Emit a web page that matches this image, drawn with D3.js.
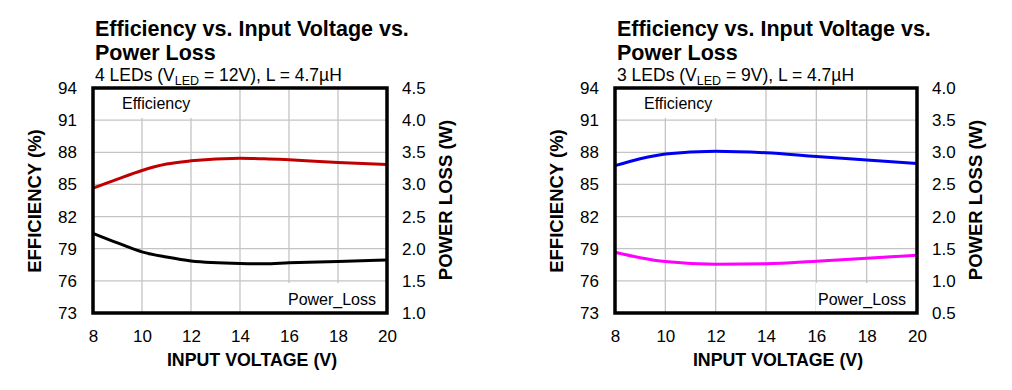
<!DOCTYPE html>
<html>
<head>
<meta charset="utf-8">
<script src="https://cdn.jsdelivr.net/npm/d3@7"></script>
<style>
  html, body { margin: 0; padding: 0; background: #fff; }
  svg { display: block; font-family: "Liberation Sans", Arial, Helvetica, sans-serif; }
</style>
</head>
<body>
<svg id="chart" width="1012" height="390"></svg>
<script>
// ---- Data ----
const voltage = [8, 9, 10, 11, 12, 14, 15, 16, 18, 20];
const eff4Led = [84.65, 85.5, 86.3, 86.9, 87.2, 87.45, 87.4, 87.3, 87.05, 86.85];
const loss4Led = [2.24, 2.09, 1.95, 1.87, 1.81, 1.77, 1.765, 1.78, 1.80, 1.825];
const voltage3 = [8, 9, 10, 12, 14, 16, 18, 20];
const eff3Led = [86.75, 87.4, 87.85, 88.1, 87.95, 87.6, 87.28, 86.95];
const loss3Led = [1.445, 1.36, 1.30, 1.26, 1.267, 1.305, 1.35, 1.40];
const xTicks = [8, 10, 12, 14, 16, 18, 20];
const effTicks = [73, 76, 79, 82, 85, 88, 91, 94];
const lossTicks4 = [1.0, 1.5, 2.0, 2.5, 3.0, 3.5, 4.0, 4.5];
const lossTicks3 = [0.5, 1.0, 1.5, 2.0, 2.5, 3.0, 3.5, 4.0];
const titleLines = ["Efficiency vs. Input Voltage vs.", "Power Loss"];
const subtitles = [
  {pre: "4 LEDs (V", sub: "LED", post: " = 12V), L = 4.7µH"},
  {pre: "3 LEDs (V", sub: "LED", post: " = 9V), L = 4.7µH"}
];

const svg = d3.select("#chart");

function panel(opt) {
  const g = svg.append("g");
  const x = d3.scaleLinear().domain([8, 20]).range([opt.left, opt.right]);
  const yE = d3.scaleLinear().domain([73, 94]).range([313, 88]);
  const yL = d3.scaleLinear().domain(opt.lossDomain).range([313, 88]);

  // grid
  const grid = g.append("g").attr("stroke", "#c4c4c4").attr("stroke-width", 1.3);
  xTicks.slice(1, -1).forEach(v => grid.append("line")
    .attr("x1", x(v)).attr("x2", x(v)).attr("y1", 88).attr("y2", 313));
  effTicks.slice(1, -1).forEach(v => grid.append("line")
    .attr("x1", opt.left).attr("x2", opt.right).attr("y1", yE(v)).attr("y2", yE(v)));

  // label boxes (white) covering grid
  g.append("rect").attr("x", opt.left).attr("y", 88)
    .attr("width", opt.effBoxW).attr("height", 30).attr("fill", "#fff");
  g.append("rect").attr("x", opt.right - opt.lossBoxW).attr("y", 283)
    .attr("width", opt.lossBoxW).attr("height", 30).attr("fill", "#fff");

  // lines
  const lineE = d3.line().x((d, i) => x(opt.xs[i])).y(d => yE(d)).curve(d3.curveMonotoneX);
  const lineL = d3.line().x((d, i) => x(opt.xs[i])).y(d => yL(d)).curve(d3.curveMonotoneX);
  g.append("path").attr("d", lineE(opt.eff)).attr("fill", "none")
    .attr("stroke", opt.effColor).attr("stroke-width", 3);
  g.append("path").attr("d", lineL(opt.loss)).attr("fill", "none")
    .attr("stroke", opt.lossColor).attr("stroke-width", 3);

  // inside labels
  g.append("text").attr("x", opt.left + 29).attr("y", 109)
    .attr("font-size", 16).text("Efficiency");
  g.append("text").attr("x", opt.right - 11).attr("y", 305)
    .attr("text-anchor", "end").attr("font-size", 16).text("Power_Loss");

  // frame
  g.append("rect").attr("x", opt.left).attr("y", 88)
    .attr("width", opt.right - opt.left).attr("height", 225)
    .attr("fill", "none").attr("stroke", "#000").attr("stroke-width", 3.5);

  // axes
  const axB = g.append("g").attr("transform", "translate(0,313)")
    .call(d3.axisBottom(x).tickValues(xTicks).tickSize(0).tickPadding(17).tickFormat(d3.format("d")));
  const axLft = g.append("g").attr("transform", `translate(${opt.left},0)`)
    .call(d3.axisLeft(yE).tickValues(effTicks).tickSize(0).tickPadding(16).tickFormat(d3.format("d")));
  const axR = g.append("g").attr("transform", `translate(${opt.right},0)`)
    .call(d3.axisRight(yL).tickValues(opt.lossTicks).tickSize(0).tickPadding(15).tickFormat(d3.format(".1f")));
  [axB, axLft, axR].forEach(a => {
    a.select(".domain").remove();
    a.selectAll("text").attr("font-size", 17).attr("fill", "#000")
      .attr("font-family", "'Liberation Sans', Arial, sans-serif");
  });

  // axis titles
  g.append("text").attr("x", (opt.left + opt.right) / 2 + 12).attr("y", 366)
    .attr("text-anchor", "middle").attr("font-weight", "bold").attr("font-size", 17.8)
    .text("INPUT VOLTAGE (V)");
  g.append("text").attr("transform", `translate(${opt.left - 52},201) rotate(-90)`)
    .attr("text-anchor", "middle").attr("font-weight", "bold").attr("font-size", 18.5)
    .text("EFFICIENCY (%)");
  g.append("text").attr("transform", `translate(${opt.right + 65},200) rotate(-90)`)
    .attr("text-anchor", "middle").attr("font-weight", "bold").attr("font-size", 18.5)
    .text("POWER LOSS (W)");

  // title (two lines)
  titleLines.forEach((t, i) => g.append("text").attr("x", opt.left + 2).attr("y", 36 + i * 24)
    .attr("font-weight", "bold").attr("font-size", 21.5).text(t));
  const st = g.append("text").attr("x", opt.left + 2).attr("y", 81).attr("font-size", 17.5);
  st.append("tspan").text(opt.sub.pre);
  st.append("tspan").attr("font-size", 12.5).attr("dy", 4).text(opt.sub.sub);
  st.append("tspan").attr("dy", -4).text(opt.sub.post);
}

panel({left: 93, right: 387, xs: voltage, eff: eff4Led, loss: loss4Led,
  lossDomain: [1.0, 4.5], lossTicks: lossTicks4, effColor: "#c00000", lossColor: "#000",
  effBoxW: 99, lossBoxW: 99, sub: subtitles[0]});
panel({left: 615, right: 917, xs: voltage3, eff: eff3Led, loss: loss3Led,
  lossDomain: [0.5, 4.0], lossTicks: lossTicks3, effColor: "#0000f0", lossColor: "#ff00ff",
  effBoxW: 103, lossBoxW: 101, sub: subtitles[1]});
</script>
</body>
</html>
